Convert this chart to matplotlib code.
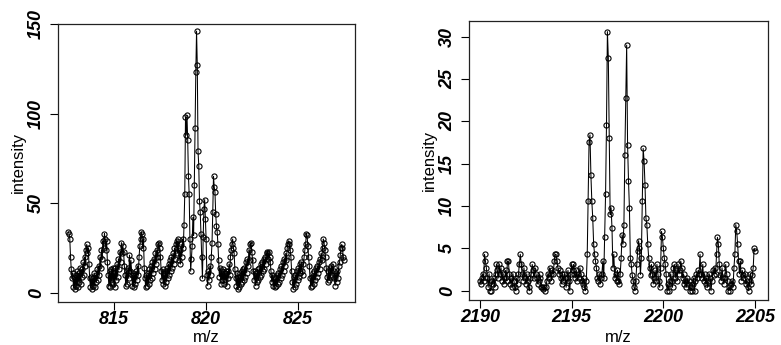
import numpy as np
import matplotlib
matplotlib.use("Agg")
import matplotlib.pyplot as plt

# ---------------- data ----------------
# left spectrum: m/z grid 812.52 .. 827.48, step 0.04
left_mz_start, left_mz_step = 812.52, 0.04
left_intensity = [
    34, 33, 30, 20, 13, 8, 11, 3, 9, 2, 10, 4, 12, 3, 11, 6, 14, 5, 13, 9, 17, 10, 20, 15, 24,
    27, 22, 25, 16, 8, 3, 9, 2, 8, 4, 11, 3, 10, 6, 13, 7, 15, 10, 20, 14, 24, 19, 29, 25, 33,
    30, 24, 29, 17, 10, 4, 12, 3, 13, 6, 14, 5, 12, 3, 14, 7, 16, 9, 19, 13, 23, 17, 28, 22, 26,
    23, 15, 10, 4, 12, 5, 14, 8, 21, 12, 18, 10, 4, 11, 3, 10, 5, 12, 7, 15, 10, 20, 26, 30, 34,
    33, 25, 30, 14, 8, 3, 10, 4, 11, 5, 13, 7, 15, 8, 17, 11, 19, 13, 22, 16, 24, 20, 27, 28, 25,
    20, 12, 7, 13, 5, 11, 4, 12, 6, 14, 8, 16, 10, 18, 12, 20, 14, 22, 16, 25, 19, 27, 29, 22, 30,
    18, 24, 16, 27, 20, 30, 25, 38, 55, 98, 88, 99, 85, 65, 55, 30, 12, 19, 26, 42, 32, 60, 92, 123, 146,
    127, 79, 71, 51, 45, 33, 20, 8, 31, 47, 52, 41, 30, 10, 4, 12, 7, 15, 10, 20, 28, 45, 65, 59, 56,
    44, 37, 34, 27, 18, 9, 14, 5, 12, 7, 13, 5, 11, 7, 12, 4, 12, 8, 16, 10, 20, 24, 27, 30, 25,
    22, 13, 8, 4, 11, 2, 9, 3, 11, 5, 12, 6, 13, 7, 14, 9, 17, 11, 19, 15, 24, 18, 27, 28, 23,
    18, 12, 7, 12, 4, 11, 6, 13, 7, 14, 9, 16, 10, 17, 12, 19, 13, 20, 16, 22, 23, 19, 23, 20, 17,
    12, 6, 10, 4, 9, 3, 8, 4, 10, 5, 11, 6, 13, 8, 15, 10, 17, 12, 19, 15, 22, 18, 25, 27, 29,
    27, 24, 20, 12, 6, 2, 9, 3, 10, 5, 12, 7, 14, 9, 16, 11, 17, 12, 10, 16, 20, 24, 27, 33, 32,
    26, 20, 15, 8, 3, 9, 4, 11, 5, 12, 7, 14, 9, 15, 11, 17, 13, 19, 22, 18, 25, 30, 28, 24, 20,
    14, 9, 6, 12, 7, 14, 9, 15, 10, 16, 12, 8, 4, 11, 6, 12, 8, 15, 17, 21, 25, 27, 25, 20, 18,
]

# right spectrum: m/z grid 2190.00 .. 2205.00, step 0.05
right_mz_start, right_mz_step = 2190.0, 0.05
right_intensity = [
    1.2, 0.8, 1.5, 2.0, 1.2, 4.3, 3.5, 2.7, 1.5, 0.4, 2.0, 0.0, 0.0, 1.2, 0.8, 1.5, 0.4, 2.0, 3.1, 2.4,
    1.5, 3.1, 2.0, 2.7, 1.2, 2.0, 0.8, 1.5, 2.4, 1.2, 3.5, 3.5, 2.0, 0.8, 1.5, 0.4, 2.0, 1.2, 0.4, 0.0,
    1.5, 0.8, 2.0, 3.1, 4.3, 3.1, 2.0, 1.2, 2.7, 1.5, 0.8, 2.0, 1.2, 0.4, 0.0, 1.5, 2.0, 3.1, 2.4, 1.5,
    2.7, 2.0, 1.5, 0.8, 1.2, 2.0, 1.5, 0.4, 0.4, 0.2, 0.4, 0.0, 0.4, 1.2, 2.0, 1.5, 2.7, 2.0, 1.2, 2.4,
    2.0, 3.5, 4.3, 4.3, 3.5, 2.7, 2.0, 2.4, 1.5, 0.8, 2.0, 1.2, 2.0, 1.5, 0.4, 1.5, 2.4, 1.2, 0.0, 2.0,
    3.1, 2.4, 3.1, 2.0, 1.5, 2.4, 1.2, 2.0, 1.5, 2.7, 2.0, 1.2, 0.8, 1.5, 0.4, 0.0, 1.2, 4.3, 10.6, 17.6,
    18.4, 13.7, 10.6, 8.6, 5.5, 4.3, 3.5, 2.7, 1.5, 1.2, 2.0, 0.8, 1.5, 2.0, 3.5, 1.5, 6.3, 11.4, 19.6, 30.6,
    27.5, 18.0, 9.0, 9.8, 7.4, 2.7, 4.3, 1.5, 2.0, 1.2, 2.4, 1.2, 0.8, 2.0, 3.9, 6.6, 5.5, 7.8, 16.0, 22.7,
    29.0, 17.2, 13.0, 9.8, 3.9, 3.1, 1.9, 1.2, 0.4, 0.0, 1.2, 3.1, 4.7, 5.9, 5.0, 1.9, 3.9, 10.6, 16.8, 15.3,
    12.5, 8.6, 7.8, 5.5, 3.9, 2.7, 1.9, 3.1, 2.0, 0.8, 1.5, 2.4, 1.2, 3.1, 2.0, 1.2, 0.4, 2.7, 7.0, 6.3,
    5.0, 3.9, 3.1, 2.0, 0.0, 0.8, 0.0, 1.2, 2.0, 1.2, 0.4, 2.7, 3.1, 1.5, 2.4, 1.2, 3.1, 2.0, 2.4, 3.5,
    2.7, 1.5, 2.0, 0.8, 1.2, 0.4, 1.5, 0.8, 1.2, 0.0, 0.4, 0.0, 0.8, 1.5, 0.0, 1.2, 2.0, 1.5, 2.4, 2.0,
    4.3, 2.0, 1.5, 3.1, 1.2, 2.0, 0.8, 1.5, 0.4, 1.2, 2.0, 1.5, 0.0, 1.2, 2.4, 1.9, 2.7, 2.0, 4.3, 6.3,
    5.5, 3.1, 1.9, 1.2, 2.7, 1.5, 0.8, 1.5, 3.1, 2.0, 1.2, 0.0, 0.4, 0.0, 0.8, 1.2, 0.4, 2.7, 4.3, 7.8,
    7.0, 5.5, 3.5, 2.0, 3.5, 1.2, 2.4, 1.9, 1.5, 2.0, 0.8, 1.2, 0.4, 0.0, 1.2, 2.0, 0.8, 1.9, 2.7, 5.0,
    4.7,
]

left_xticks = [815, 820, 825]
left_yticks = [0, 50, 100, 150]
right_xticks = [2190, 2195, 2200, 2205]
right_yticks = [0, 5, 10, 15, 20, 25, 30]
xlabel_text = "m/z"
ylabel_text = "intensity"

left_mz = left_mz_start + left_mz_step * np.arange(len(left_intensity))
right_mz = right_mz_start + right_mz_step * np.arange(len(right_intensity))

# ---------------- figure ----------------
W, H = 781, 345
fig = plt.figure(figsize=(W / 100, H / 100), dpi=100)
FONT = "Liberation Sans"


def px_axes(l, t, r, b):
    return fig.add_axes([l / W, 1 - b / H, (r - l) / W, (b - t) / H])


def style(ax, xticks, yticks, xlim, ylim, left_px, top_px, bottom_px, right_px):
    ax.set_xlim(*xlim)
    ax.set_ylim(*ylim)
    ax.set_xticks(xticks)
    ax.set_yticks(yticks)
    ax.set_xticklabels([str(v) for v in xticks], fontfamily=FONT,
                       fontsize=13, fontweight="bold", fontstyle="italic")
    ax.set_yticklabels([str(v) for v in yticks], fontfamily=FONT,
                       fontsize=13, fontweight="bold", fontstyle="italic",
                       rotation=90, va="center")
    ax.tick_params(axis="both", direction="out", length=5.5, width=0.8, colors="black")
    ax.tick_params(axis="x", pad=1)
    ax.tick_params(axis="y", pad=4)
    for s in ax.spines.values():
        s.set_linewidth(0.9)
        s.set_color("#222222")
    fig.text((left_px + right_px) / 2 / W, 1 - 338 / H, xlabel_text, fontfamily=FONT,
             fontsize=12, ha="center", va="center")
    fig.text((left_px - 40) / W, 1 - ((top_px + bottom_px) / 2) / H, ylabel_text,
             fontfamily=FONT, fontsize=12, ha="center", va="center", rotation=90)


def draw(ax, x, y):
    ax.plot(x, y, color="black", lw=0.75, marker="o", markersize=3.7,
            markerfacecolor="none", markeredgecolor="black", markeredgewidth=0.8)


axL = px_axes(58, 24, 355, 301.7)
draw(axL, left_mz, left_intensity)
style(axL, left_xticks, left_yticks, (811.96, 828.08), (-5.0, 149.8), 58, 24, 301.7, 355)

axR = px_axes(469.3, 21, 767.7, 300)
draw(axR, right_mz, right_intensity)
style(axR, right_xticks, right_yticks, (2189.42, 2205.69), (-1.1, 31.85), 469.3, 21, 300, 767.7)

fig.savefig("out.png", dpi=100)
